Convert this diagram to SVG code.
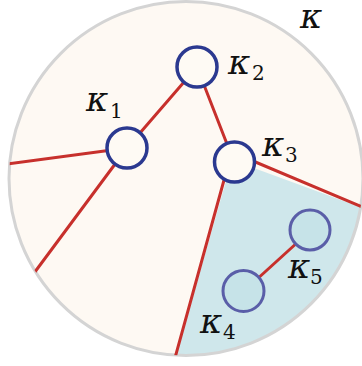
<svg xmlns="http://www.w3.org/2000/svg" width="362" height="366" viewBox="0 0 362 366">
<style>
.edge{stroke:#c7302c;stroke-width:3;stroke-linecap:round;fill:none}
.nodeA{fill:#fefaf4;stroke:#2b3990;stroke-width:3.5}
.nodeB{fill:#c6e3e8;stroke:#5a5ea8;stroke-width:3}
.k{font-family:"DejaVu Serif",serif;font-style:italic;font-size:34px;fill:#111}
.s{font-family:"DejaVu Serif",serif;font-style:normal;font-size:20px;fill:#111}
</style>
<defs>
<clipPath id="disk"><circle cx="186" cy="178.5" r="177"/></clipPath>
</defs>
<rect width="362" height="366" fill="#ffffff"/>
<g id="region">
<circle cx="186" cy="178.5" r="177" fill="#fef9f3"/>
<polygon points="232,160 420,229 420,380 169,380" fill="#cfe7eb" clip-path="url(#disk)"/>
<circle cx="186" cy="178.5" r="177" fill="none" stroke="#d4d4d4" stroke-width="3"/>
</g>
<g id="connectors" clip-path="url(#disk)">
<line class="edge" x1="127" y1="148" x2="197" y2="67"/>
<line class="edge" x1="197" y1="67" x2="234" y2="162"/>
<line class="edge" x1="127" y1="148" x2="0" y2="165"/>
<line class="edge" x1="127" y1="148" x2="20" y2="292"/>
<line class="edge" x1="234" y1="153" x2="400" y2="223"/>
<line class="edge" x1="229" y1="162" x2="170" y2="376"/>
<line class="edge" x1="244" y1="291" x2="310" y2="231"/>
</g>
<g id="k1">
<circle class="nodeA" cx="127" cy="148" r="20"/>
<text class="k" x="86" y="111">κ</text><text class="s" x="110" y="118">1</text>
</g>
<g id="k2">
<circle class="nodeA" cx="197" cy="67" r="20"/>
<text class="k" x="228" y="74">κ</text><text class="s" x="252" y="80">2</text>
</g>
<g id="k3">
<circle class="nodeA" cx="234.5" cy="162" r="20"/>
<text class="k" x="262" y="156">κ</text><text class="s" x="285" y="162">3</text>
</g>
<g id="k5">
<circle class="nodeB" cx="310" cy="230" r="20"/>
<text class="k" x="288" y="278">κ</text><text class="s" x="310" y="284">5</text>
</g>
<g id="k4">
<circle class="nodeB" cx="243.5" cy="291" r="20.5"/>
<text class="k" x="200" y="333">κ</text><text class="s" x="223" y="339">4</text>
</g>
<g id="kappa">
<text class="k" x="300" y="28">κ</text>
</g>
</svg>
